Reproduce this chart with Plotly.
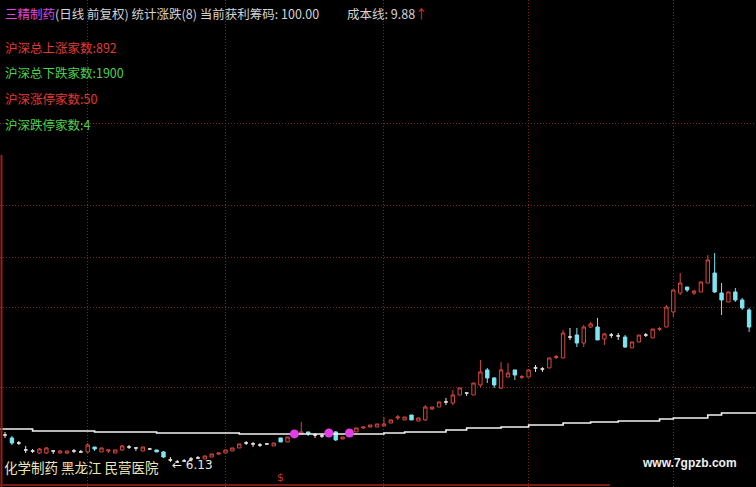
import plotly.graph_objects as go

# ---- data (daily candles, 前复权 prices) ----
idx = list(range(109))
open_ = [8.23, 8.01, 7.63, 7.11, 7.03, 6.88, 6.88, 7.03, 6.88, 6.88,
         7.03, 6.96, 6.96, 7.33, 6.96, 7.03, 6.88, 7.11, 7.33, 7.26,
         7.03, 7.18, 7.11, 6.96, 6.36, 6.21, 6.28, 6.43, 6.51, 6.43,
         6.58, 6.81, 6.88, 7.03, 7.26, 7.63, 7.56, 7.48, 7.56, 7.41,
         8.01, 7.71, 8.23, 8.31, 8.46, 8.23, 8.16, 8.38, 8.46, 7.93,
         8.31, 8.46, 8.76, 8.83, 8.83, 8.91, 9.13, 9.51, 9.36, 9.73,
         9.28, 9.36, 10.18, 10.33, 10.71, 10.63, 11.23, 11.38, 11.23, 11.98,
         13.11, 12.51, 11.76, 12.58, 13.11, 12.56, 12.58, 13.26, 13.18, 13.26,
         14.05, 14.01, 15.58, 15.73, 15.13, 16.33, 16.33, 15.43, 15.73, 15.66,
         15.58, 14.76, 15.21, 15.73, 15.51, 16.16, 16.33, 17.46, 18.88, 19.33,
         18.88, 18.96, 19.63, 20.38, 18.88, 18.21, 18.96, 18.36, 17.61]
high = [8.46, 8.16, 7.78, 7.41, 7.18, 7.26, 7.33, 7.03, 7.11, 7.03,
        7.18, 7.11, 7.63, 7.33, 7.26, 7.11, 7.11, 7.48, 7.48, 7.26,
        7.33, 7.26, 7.11, 7.03, 6.58, 6.36, 6.43, 6.58, 6.66, 6.66,
        6.81, 6.88, 7.11, 7.26, 7.56, 7.78, 7.71, 7.63, 7.63, 7.63,
        8.01, 8.08, 8.38, 9.21, 8.46, 8.38, 8.31, 8.46, 8.53, 8.08,
        8.46, 8.76, 8.83, 8.98, 9.06, 9.58, 9.36, 9.73, 9.58, 9.73,
        9.51, 10.48, 10.33, 10.71, 11.01, 11.61, 11.76, 11.38, 12.13, 13.86,
        13.26, 12.58, 13.71, 13.63, 13.11, 12.73, 13.11, 13.48, 13.33, 14.01,
        14.23, 16.11, 16.26, 16.26, 16.48, 16.71, 17.01, 15.88, 15.88, 15.88,
        15.73, 15.21, 15.73, 15.88, 16.18, 16.33, 17.98, 19.11, 20.38, 19.33,
        19.11, 19.71, 21.73, 21.88, 19.63, 18.96, 19.26, 18.51, 17.76]
low = [8.01, 7.48, 7.48, 6.88, 6.88, 6.81, 6.81, 6.81, 6.88, 6.81,
       6.88, 6.88, 6.88, 7.03, 6.96, 6.88, 6.88, 7.03, 7.18, 7.03,
       7.03, 7.11, 6.96, 6.51, 6.21, 6.13, 6.21, 6.36, 6.43, 6.43,
       6.58, 6.73, 6.88, 7.03, 7.26, 7.48, 7.33, 7.33, 7.48, 7.41,
       7.71, 7.71, 8.23, 8.31, 8.16, 8.01, 8.01, 8.31, 7.78, 7.93,
       8.31, 8.46, 8.68, 8.83, 8.83, 8.91, 9.13, 9.36, 9.36, 9.36,
       9.28, 9.28, 10.11, 10.33, 10.48, 10.48, 11.23, 11.16, 11.23, 11.83,
       12.13, 11.76, 11.68, 12.58, 12.36, 12.43, 12.58, 12.96, 12.96, 13.26,
       13.93, 14.01, 15.36, 14.83, 14.83, 16.26, 15.36, 14.98, 15.51, 15.36,
       14.76, 14.76, 15.21, 15.58, 15.51, 16.03, 16.33, 17.08, 18.73, 18.96,
       18.73, 18.96, 19.63, 18.88, 17.23, 18.21, 18.21, 17.61, 15.96]
close = [8.23, 7.63, 7.63, 7.11, 7.03, 7.18, 7.26, 7.03, 7.03, 7.03,
         7.03, 6.96, 7.48, 7.18, 7.26, 7.11, 7.11, 7.41, 7.33, 7.26,
         7.33, 7.18, 6.96, 6.58, 6.36, 6.21, 6.28, 6.43, 6.51, 6.66,
         6.81, 6.88, 7.11, 7.26, 7.56, 7.63, 7.56, 7.48, 7.56, 7.63,
         7.71, 8.08, 8.38, 8.46, 8.31, 8.23, 8.16, 8.38, 7.86, 8.08,
         8.46, 8.76, 8.83, 8.98, 9.06, 9.06, 9.36, 9.58, 9.58, 9.36,
         9.51, 10.33, 10.33, 10.71, 10.71, 11.23, 11.76, 11.38, 12.13, 12.96,
         12.51, 11.98, 13.11, 12.88, 12.73, 12.60, 13.11, 13.26, 13.18, 14.01,
         14.10, 15.88, 15.58, 15.13, 16.33, 16.56, 15.36, 15.81, 15.73, 15.66,
         14.83, 15.21, 15.73, 15.73, 16.18, 16.20, 17.83, 19.11, 19.63, 19.11,
         19.03, 19.71, 21.36, 18.96, 18.36, 18.96, 18.36, 17.76, 16.33]

# signal points (magenta dots)
signal_idx = [42, 47, 50]
signal_val = [8.31, 8.38, 8.38]

# cost line (成本线), step line
cost_x = [-1, 4, 13, 22, 34, 55, 58, 64, 67, 72, 76, 81, 85, 89, 95, 97, 102, 104, 110]
cost_y = [8.68, 8.53, 8.46, 8.38, 8.31, 8.38, 8.46, 8.61, 8.76, 8.83, 8.98,
          9.13, 9.21, 9.28, 9.43, 9.51, 9.73, 9.88, 9.88]

month_idx = [12, 32, 55, 76, 97]
grid_prices = [31.63, 25.48, 21.58, 17.83, 11.76]

header_name = "三精制药"
header_rest = "(日线 前复权) 统计涨跌(8) 当前获利筹码: 100.00"
cost_label = "成本线: 9.88"
stats_lines = ["沪深总上涨家数:892", "沪深总下跌家数:1900", "沪深涨停家数:50", "沪深跌停家数:4"]
stats_colors = ["#e03a34", "#4cd24c", "#e03a34", "#4cd24c"]
bottom_tags = "化学制药 黑龙江 民营医院"
low_label = "← 6.13"
watermark = "www.7gpzb.com"

RED = "#d8483e"
CYAN = "#7ee4f2"
WHITE = "#e6e6e6"

up = [i for i in idx if close[i] > open_[i]]
dn = [i for i in idx if close[i] < open_[i]]
dj = [i for i in idx if close[i] == open_[i]]

def sub(arr, ids):
    return [arr[i] for i in ids]

fig = go.Figure()

fig.add_trace(go.Scatter(x=cost_x, y=cost_y, mode="lines", line=dict(color="#f4f4f4", width=1.6, shape="hv"),
                         hoverinfo="skip", showlegend=False))

for ids, inc, dec, incfill, decfill in [
    (up, RED, RED, "#000000", "#000000"),
    (dn, CYAN, CYAN, CYAN, CYAN),
    (dj, WHITE, WHITE, WHITE, WHITE),
]:
    fig.add_trace(go.Candlestick(
        x=ids, open=sub(open_, ids), high=sub(high, ids), low=sub(low, ids), close=sub(close, ids),
        increasing=dict(line=dict(color=inc, width=1), fillcolor=incfill),
        decreasing=dict(line=dict(color=dec, width=1), fillcolor=decfill),
        whiskerwidth=0, showlegend=False))

fig.add_trace(go.Scatter(x=signal_idx, y=signal_val, mode="markers",
                         marker=dict(color="#e23ee6", size=9, line=dict(width=0)), showlegend=False))

W, H = 756, 487
def px(x):
    return x / W
def py(y):
    return 1 - y / H

CJK = "Noto Sans CJK SC"
ann = []
ann.append(dict(x=px(3), y=py(13), xref="paper", yref="paper", xanchor="left", yanchor="middle",
                showarrow=False, text=f"<span style='color:#e044e0'>{header_name}</span>{header_rest}",
                font=dict(family=CJK, size=12.5, color="#d2d2d2")))
ann.append(dict(x=px(345), y=py(13), xref="paper", yref="paper", xanchor="left", yanchor="middle",
                showarrow=False, text=f"{cost_label}<span style='color:#e8322c'>↑</span>",
                font=dict(family=CJK, size=12.5, color="#d2d2d2")))
for k, (t, c) in enumerate(zip(stats_lines, stats_colors)):
    ann.append(dict(x=px(3), y=py(47 + 26 * k), xref="paper", yref="paper", xanchor="left", yanchor="middle",
                    showarrow=False, text=t, font=dict(family=CJK, size=12.5, color=c)))
ann.append(dict(x=px(2), y=py(467), xref="paper", yref="paper", xanchor="left", yanchor="middle",
                showarrow=False, text=bottom_tags, font=dict(family=CJK, size=13.5, color="#ece4b8")))
ann.append(dict(x=px(170), y=py(465), xref="paper", yref="paper", xanchor="left", yanchor="middle",
                showarrow=False, text=low_label, font=dict(family="DejaVu Sans", size=12, color="#e8e8e8")))
ann.append(dict(x=px(640), y=py(463), xref="paper", yref="paper", xanchor="left", yanchor="middle",
                showarrow=False, text=f"<b>{watermark}</b>",
                font=dict(family="Liberation Sans", size=12, color="#f0f0f0")))
ann.append(dict(x=px(280), y=py(477), xref="paper", yref="paper", xanchor="center", yanchor="middle",
                showarrow=False, text="$", font=dict(family="DejaVu Sans", size=11, color="#d0342c")))

shapes = [
    dict(type="line", xref="paper", yref="paper", x0=px(1.5), x1=px(1.5), y0=py(155), y1=0,
         line=dict(color="#9a1e1a", width=2)),
    dict(type="line", xref="paper", yref="paper", x0=0, x1=px(610), y0=py(485), y1=py(485),
         line=dict(color="#7a1a16", width=2)),
]

GRID = "#7c2820"
fig.update_layout(
    width=W, height=H, margin=dict(l=0, r=0, t=0, b=0),
    paper_bgcolor="#000000", plot_bgcolor="#000000",
    annotations=ann, shapes=shapes, showlegend=False,
    xaxis=dict(range=[-0.73, 109.0], tickmode="array", tickvals=month_idx, showticklabels=False,
               showgrid=True, gridcolor=GRID, griddash="1px,2px", gridwidth=1, zeroline=False,
               rangeslider=dict(visible=False), fixedrange=True, showline=False, layer="below traces"),
    yaxis=dict(range=[4.33, 40.86], tickmode="array", tickvals=grid_prices, showticklabels=False,
               showgrid=True, gridcolor=GRID, griddash="1px,2px", gridwidth=1, zeroline=False, fixedrange=True),
)

fig.write_html("out.html", config={"displayModeBar": False},
               post_script="document.body.style.margin='0';document.body.style.background='#000';")
